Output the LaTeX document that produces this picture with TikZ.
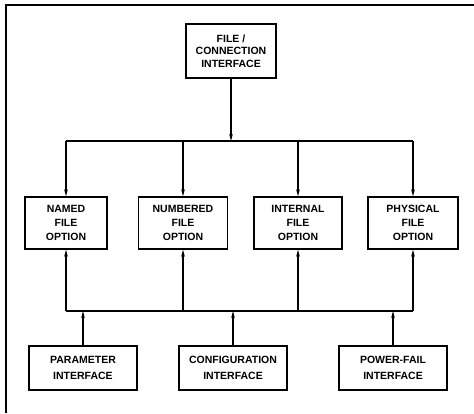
\documentclass[tikz,border=0pt]{standalone}
\usepackage{fontspec}
\setmainfont{Liberation Sans}
\usetikzlibrary{arrows.meta}
\begin{document}
\begin{tikzpicture}[x=1pt,y=-1pt,
  blk/.style={draw,line width=1.3pt,rectangle,inner sep=0pt,align=center,
    font=\fontsize{10.5}{12.5}\selectfont\bfseries},
  wire/.style={line width=1.4pt},
  arr/.style={line width=1.4pt,-{Stealth[length=7pt,width=3.6pt]}}]
\useasboundingbox (0,0) rectangle (474,413);
% frame
\draw[line width=1.2pt] (6,413) -- (6,5) -- (474,5);
% top
\node[blk,minimum width=90pt,minimum height=54pt] (fc) at (231,51) {FILE /\\CONNECTION\\INTERFACE};
% middle
\node[blk,minimum width=82pt,minimum height=52pt,font=\fontsize{10.5}{14}\selectfont\bfseries] (m1) at (66,223) {NAMED\\FILE\\OPTION};
\node[blk,minimum width=89pt,minimum height=52pt,font=\fontsize{10.5}{14}\selectfont\bfseries] (m2) at (183,223) {NUMBERED\\FILE\\OPTION};
\node[blk,minimum width=88pt,minimum height=52pt,font=\fontsize{10.5}{14}\selectfont\bfseries] (m3) at (298,223) {INTERNAL\\FILE\\OPTION};
\node[blk,minimum width=90pt,minimum height=52pt,font=\fontsize{10.5}{14}\selectfont\bfseries] (m4) at (413,223) {PHYSICAL\\FILE\\OPTION};
% bottom
\node[blk,minimum width=108pt,minimum height=44pt,font=\fontsize{10.5}{15.5}\selectfont\bfseries] (b1) at (83,368) {PARAMETER\\INTERFACE};
\node[blk,minimum width=108pt,minimum height=44pt,font=\fontsize{10.5}{15.5}\selectfont\bfseries] (b2) at (233,368) {CONFIGURATION\\INTERFACE};
\node[blk,minimum width=108pt,minimum height=44pt,font=\fontsize{10.5}{15.5}\selectfont\bfseries] (b3) at (393,368) {POWER-FAIL\\INTERFACE};
% buses
\coordinate (busT) at (0,141);
\coordinate (busB) at (0,311);
\draw[arr] (fc.south) -- (fc.south |- busT);
\draw[wire] (m1.north |- busT) -- (m4.north |- busT);
\foreach \m in {m1,m2,m3,m4} \draw[arr] (\m.north |- busT) -- (\m.north);
\draw[wire] (m1.south |- busB) -- (m4.south |- busB);
\foreach \m in {m1,m2,m3,m4} \draw[arr] (\m.south |- busB) -- (\m.south);
\foreach \b in {b1,b2,b3} \draw[arr] (\b.north) -- (\b.north |- busB);
\end{tikzpicture}
\end{document}
